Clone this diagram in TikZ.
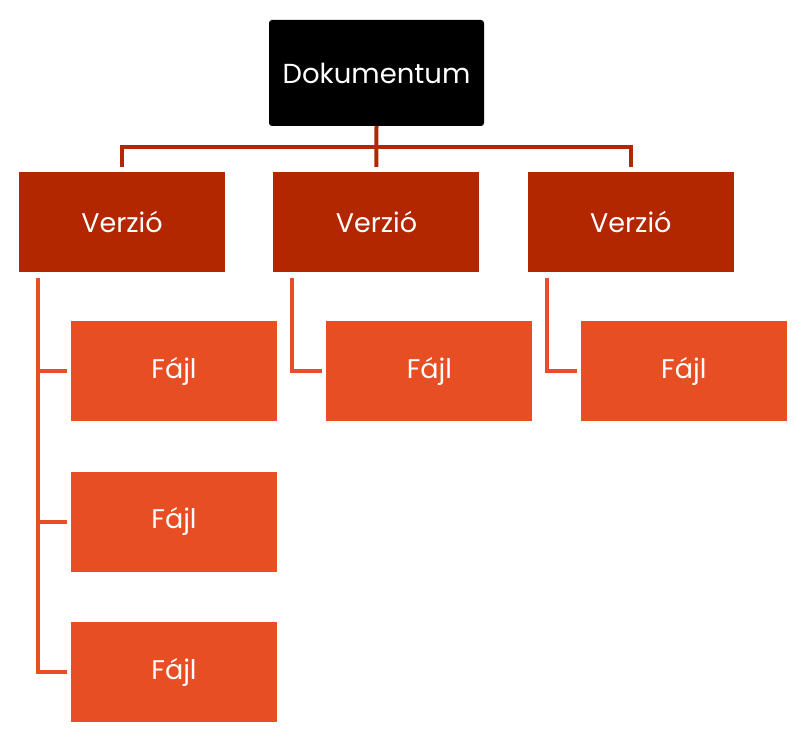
\documentclass[tikz,border=0pt]{standalone}
\usepackage{fontspec}
\setmainfont{Poppins}
\usepackage{tikz}
\usetikzlibrary{positioning}
\definecolor{docblack}{HTML}{000000}
\definecolor{rust}{HTML}{B22600}
\definecolor{flame}{HTML}{E84E24}

\begin{document}
\begin{tikzpicture}[
  x=1pt, y=-1pt,
  node distance=49pt and 48pt,
  docbox/.style={fill=docblack, text=white, rounded corners=3pt,
                 minimum width=215pt, minimum height=106pt,
                 font=\fontsize{27.5}{32}\selectfont},
  verbox/.style={fill=rust, text=white, minimum width=206pt,
                 minimum height=100pt, font=\fontsize{27}{32}\selectfont},
  filebox/.style={fill=flame, text=white, minimum width=206pt,
                  minimum height=100pt, font=\fontsize{27}{32}\selectfont},
  trunk/.style={draw=rust, line width=4pt},
  branch/.style={draw=flame, line width=4pt}
]
\useasboundingbox (0,0) rectangle (807,754);

\node[docbox] (doc) at (376.5,73) {Dokumentum};
\node[verbox] (v1) at (122,222) {Verzió};
\node[verbox, right=of v1] (v2) {Verzió};
\node[verbox, right=of v2] (v3) {Verzió};

\node[filebox, below=of v1, xshift=52pt] (f11) {Fájl};
\node[filebox, below=50pt of f11] (f12) {Fájl};
\node[filebox, below=50pt of f12] (f13) {Fájl};
\node[filebox, below=of v2, xshift=53pt] (f21) {Fájl};
\node[filebox, below=of v3, xshift=53pt] (f31) {Fájl};

% document to versions
\draw[trunk, shorten >=5pt] (doc.south) -- (v2.north);
\draw[trunk, shorten >=5pt] (doc.south) ++(0,21) -| (v1.north);
\draw[trunk, shorten >=5pt] (doc.south) ++(0,21) -| (v3.north);

% versions to files
\draw[branch] ([xshift=19pt,yshift=-6pt]v1.south west) |- ([xshift=-4pt]f13.west);
\draw[branch] ([xshift=-33pt]f11.west) -- ([xshift=-4pt]f11.west);
\draw[branch] ([xshift=-33pt]f12.west) -- ([xshift=-4pt]f12.west);
\draw[branch] ([xshift=19pt,yshift=-6pt]v2.south west) |- ([xshift=-4pt]f21.west);
\draw[branch] ([xshift=19pt,yshift=-6pt]v3.south west) |- ([xshift=-4pt]f31.west);
\end{tikzpicture}
\end{document}
